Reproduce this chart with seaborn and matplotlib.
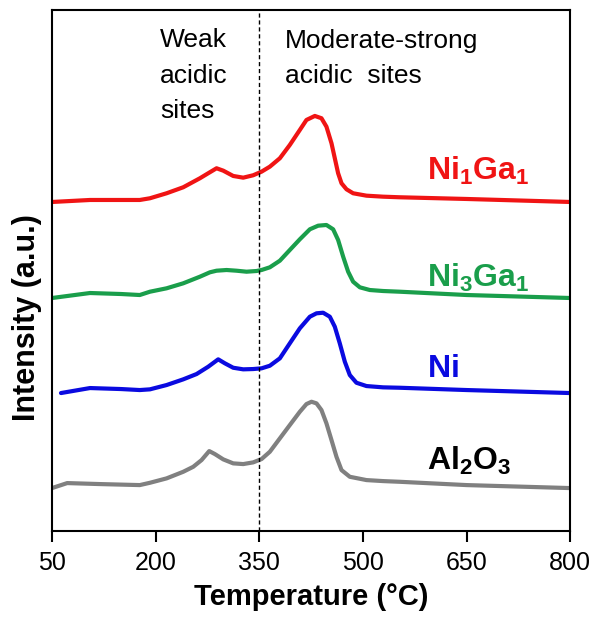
import numpy as np
import pandas as pd
import matplotlib
matplotlib.use("Agg")
import matplotlib.pyplot as plt
import seaborn as sns

# temperatures (°C) and intensities (a.u., stacked offsets)
tempRed = [50, 105, 150, 177, 191.7, 215.8, 239.9, 264, 276, 288.1, 297.8, 312.2, 326.7, 341.1, 353.2,
           365.2, 379.7, 394.1, 408.6, 418.2, 430.3, 439.9, 447.1, 454.4, 459.2, 464, 468.9, 476.1,
           485.7, 505, 529, 553.2, 650, 800]
ni1ga1 = [329, 331, 331, 331, 332.7, 337.7, 343.7, 352.7, 357.7, 362.7, 360.3, 355, 353.3, 355.7, 359.3,
          364.3, 372.7, 386, 401, 411, 415, 412.7, 404.3, 387.7, 372.7, 357.7, 347.7, 341.7,
          337.7, 335.3, 334.3, 333.7, 332, 329]

tempGreen = [50, 105, 150, 177, 191.7, 215.8, 239.9, 264, 278.5, 288.1, 302.6, 317, 331.5, 346, 353.2,
             365.2, 379.7, 394.1, 408.6, 423.1, 435.1, 447.1, 456.8, 464, 471.3, 478.5, 485.7, 495.4,
             509.8, 529, 553.2, 650, 800]
ni3ga1 = [233, 238, 237, 236, 239.3, 242.7, 247.7, 254.3, 258.7, 260.3, 261, 260.3, 259.3, 260, 261,
          263.7, 270.3, 281, 291.7, 301.7, 305.3, 306, 301.7, 291, 274.3, 259.3, 249.3, 243.7,
          241, 240, 239.3, 236, 233]

tempBlue = [63, 105, 150, 177, 191.7, 215.8, 239.9, 259.2, 276, 290.5, 300.2, 312.2, 326.7, 341.1, 353.2,
            365.2, 379.7, 394.1, 408.6, 423.1, 432.7, 442.3, 452, 459.2, 466.4, 473.7, 480.9, 490.5,
            505, 529, 553.2, 650, 800]
ni = [138, 143, 142, 141, 141.7, 146, 151.7, 157, 164.3, 171.7, 167.7, 163.3, 161.7, 162, 162.7,
      165.3, 172.7, 187.7, 202.7, 214.3, 217.7, 218.3, 214.3, 204.3, 187.7, 169.3, 156, 148.3,
      145, 143.7, 143.3, 141, 138]

tempGray = [50, 72, 120, 177, 191.7, 215.8, 239.9, 254.4, 266.4, 277.5, 285.7, 297.8, 312.2, 326.7, 341.1,
            353.2, 365.2, 379.7, 394.1, 408.6, 418.2, 425.5, 432.7, 439.9, 447.1, 454.4, 461.6, 468.9,
            480.9, 505, 529, 553.2, 650, 800]
al2o3 = [43, 48, 47, 46, 48.3, 52.7, 59.3, 64.3, 71, 80, 77, 71.7, 67.7, 67, 68.7,
         72, 79.3, 92.7, 106, 119.3, 127, 129.3, 127.7, 121, 107.7, 91, 74.3, 61,
         54.3, 51, 50, 49.3, 46, 43]

sampleNames = ["Ni1Ga1", "Ni3Ga1", "Ni", "Al2O3"]
sampleLabels = [r"$\mathbf{Ni_1Ga_1}$", r"$\mathbf{Ni_3Ga_1}$", r"$\mathbf{Ni}$", r"$\mathbf{Al_2O_3}$"]
colors = ["#f01414", "#1a9e4b", "#0a0ae0", "#808080"]

df = pd.concat([
    pd.DataFrame({"T": tempRed, "I": ni1ga1, "sample": "Ni1Ga1"}),
    pd.DataFrame({"T": tempGreen, "I": ni3ga1, "sample": "Ni3Ga1"}),
    pd.DataFrame({"T": tempBlue, "I": ni, "sample": "Ni"}),
    pd.DataFrame({"T": tempGray, "I": al2o3, "sample": "Al2O3"}),
])

sns.set_theme(style="ticks")
plt.rcParams["font.family"] = ["Liberation Sans", "DejaVu Sans"]
plt.rcParams["mathtext.fontset"] = "custom"
plt.rcParams["mathtext.rm"] = "Liberation Sans"
plt.rcParams["mathtext.bf"] = "Liberation Sans:bold"
plt.rcParams["text.color"] = "black"
plt.rcParams["axes.labelcolor"] = "black"

fig = plt.figure(figsize=(6.01, 6.19), dpi=100)
ax = fig.add_axes([0.0865, 0.142, 0.8625, 0.842])

sns.lineplot(data=df, x="T", y="I", hue="sample", hue_order=sampleNames,
             palette=colors, legend=False, linewidth=3.0, ax=ax, sort=True,
             estimator=None)
for line in ax.get_lines():
    line.set_solid_joinstyle("round")
    line.set_solid_capstyle("round")

ax.axvline(350, color="black", linewidth=1.0, linestyle=(0, (3, 2)))

ax.set_xlim(50, 800)
ax.set_ylim(0, 521)
ax.set_xticks([50, 200, 350, 500, 650, 800])
ax.set_yticks([])
ax.tick_params(axis="x", direction="out", length=8, width=1.5, labelsize=18, pad=6, colors="black")
for s in ax.spines.values():
    s.set_linewidth(1.5)
    s.set_color("black")

ax.set_xlabel("Temperature (°C)", fontsize=21, fontweight="bold", labelpad=6)
ax.set_ylabel("Intensity (a.u.)", fontsize=22, fontweight="bold")
ax.yaxis.set_label_coords(-0.02, 0.409)

labelPos = [(592, 351), (592, 244), (592, 154), (592, 61)]
labelColors = ["#f01414", "#1a9e4b", "#0a0ae0", "black"]
for lab, (tx, ty), c in zip(sampleLabels, labelPos, labelColors):
    ax.text(tx, ty, lab, color=c, fontsize=23, ha="left", va="baseline")

ax.text(206, 413, "Weak\nacidic\nsites", fontsize=19, ha="left", va="baseline", linespacing=1.6)
ax.text(387, 448, "Moderate-strong\nacidic  sites", fontsize=19, ha="left", va="baseline", linespacing=1.6)

fig.savefig("out.png", dpi=100)
